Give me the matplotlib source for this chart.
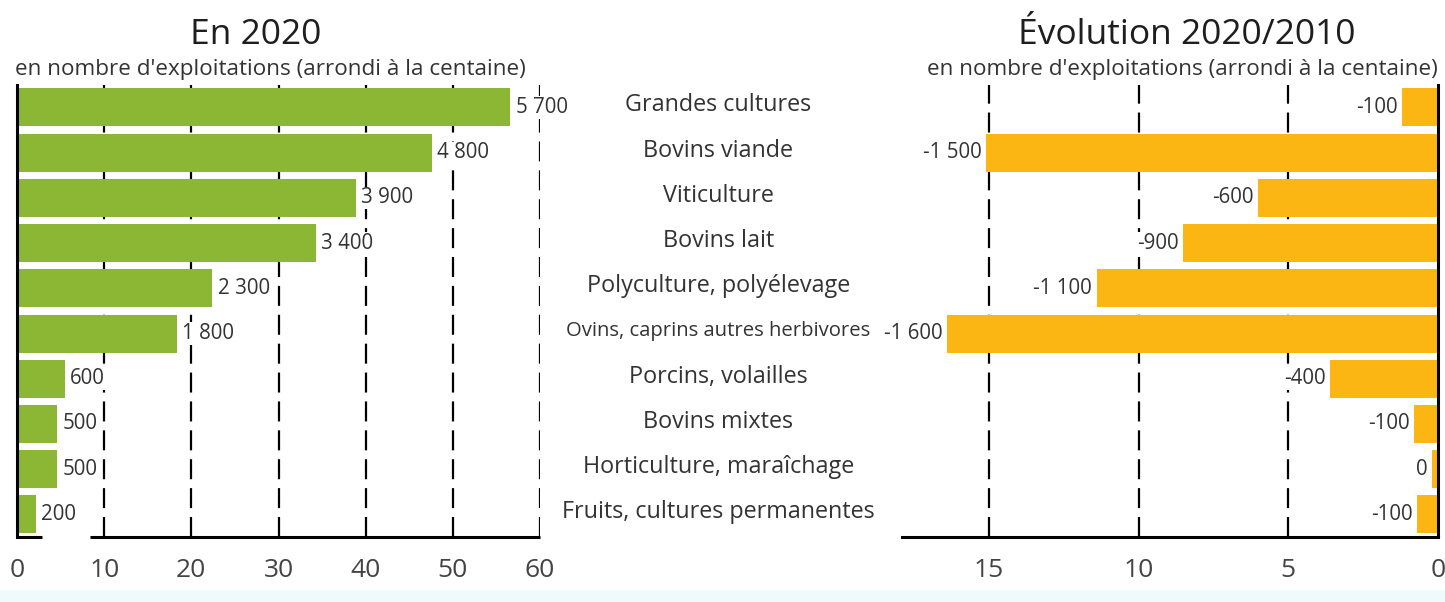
import matplotlib.pyplot as plt
from matplotlib.patches import Rectangle

plt.rcParams['font.family'] = ['Open Sans', 'DejaVu Sans']

categories = ["Grandes cultures", "Bovins viande", "Viticulture", "Bovins lait",
              "Polyculture, polyélevage", "Ovins, caprins autres herbivores",
              "Porcins, volailles", "Bovins mixtes", "Horticulture, maraîchage",
              "Fruits, cultures permanentes"]

# number of farms in 2020 (hundreds)
farms_2020 = [56.6, 47.6, 38.9, 34.3, 22.4, 18.3, 5.5, 4.6, 4.6, 2.2]
farms_2020_labels = ["5 700", "4 800", "3 900", "3 400", "2 300", "1 800",
                     "600", "500", "500", "200"]

# change 2020/2010 (hundreds, as positive length on a reversed axis)
change = [1.2, 15.1, 6.0, 8.5, 11.4, 16.4, 3.6, 0.8, 0.2, 0.7]
change_labels = ["-100", "-1 500", "-600", "-900", "-1 100", "-1 600",
                 "-400", "-100", "0", "-100"]

left_ticks = [0, 10, 20, 30, 40, 50, 60]
right_ticks = [15, 10, 5, 0]

green = "#8cb735"
orange = "#fcb614"
txt = "#333333"
tick_col = "#444444"
lab_box = dict(facecolor="white", edgecolor="none", pad=0.5)

fig = plt.figure(figsize=(14.45, 6.02), dpi=100)
fig.patch.set_facecolor("white")

ax1 = fig.add_axes([0.0118, 0.108, 0.3619, 0.751])
ax2 = fig.add_axes([0.6242, 0.108, 0.3710, 0.751])

ypos = list(range(len(categories)))
dash = (0, (9, 4))

# --- left panel
for g in left_ticks[1:]:
    ax1.axvline(g, color="black", lw=1.6, ls=dash, zorder=0)
ax1.barh(ypos, farms_2020, height=0.84, color=green, zorder=2)
for y, v, lab in zip(ypos, farms_2020, farms_2020_labels):
    ax1.text(v + 0.6, y, lab, va="center", ha="left", fontsize=14.8, color=txt,
             zorder=3, bbox=lab_box)
ax1.set_xlim(0, 60)
ax1.set_ylim(9.5, -0.5)
ax1.set_yticks([])
ax1.set_xticks(left_ticks)
ax1.tick_params(axis="x", length=0, pad=15, labelsize=19, labelcolor=tick_col)
for s in ["top", "right", "bottom"]:
    ax1.spines[s].set_visible(False)
ax1.spines["left"].set_linewidth(2.2)
ax1.spines["left"].set_color("black")
# bottom axis line, broken near the origin as in the original
ax1.hlines([0, 0], [0, 8.4], [2.9, 60], transform=ax1.get_xaxis_transform(),
           color="black", lw=2.2, clip_on=False)

# --- right panel
for g in right_ticks[:-1]:
    ax2.axvline(g, color="black", lw=1.6, ls=dash, zorder=0)
ax2.barh(ypos, change, height=0.84, color=orange, zorder=2)
for y, v, lab in zip(ypos, change, change_labels):
    ax2.text(v + 0.15, y, lab, va="center", ha="right", fontsize=14.8, color=txt,
             zorder=3, bbox=lab_box)
ax2.set_xlim(17.9, 0)
ax2.set_ylim(9.5, -0.5)
ax2.set_yticks([])
ax2.set_xticks(right_ticks)
ax2.tick_params(axis="x", length=0, pad=15, labelsize=19, labelcolor=tick_col)
for s in ["top", "left"]:
    ax2.spines[s].set_visible(False)
ax2.spines["right"].set_linewidth(2.2)
ax2.spines["bottom"].set_linewidth(2.2)

# --- category labels in the middle
for y, c in zip(ypos, categories):
    fs = 14.6 if len(c) > 30 else 16.8
    ax1.annotate(c, xy=(0.497, y), xycoords=("figure fraction", "data"),
                 xytext=(0, 1.5), textcoords="offset points",
                 ha="center", va="center", fontsize=fs, color=txt)

# --- titles
fig.text(0.177, 0.942, "En 2020", ha="center", va="center", fontsize=25.5, color="#1e1e1e")
fig.text(0.821, 0.942, "Évolution 2020/2010", ha="center", va="center", fontsize=25.5, color="#1e1e1e")
sub = "en nombre d'exploitations (arrondi à la centaine)"
fig.text(0.0105, 0.885, sub, ha="left", va="center", fontsize=16.2, color=txt)
fig.text(0.995, 0.885, sub, ha="right", va="center", fontsize=16.2, color=txt)

# pale band at the bottom of the image
fig.patches.append(Rectangle((0, 0), 1, 0.02, transform=fig.transFigure,
                             facecolor="#eefafc", edgecolor="none"))

fig.savefig("out.png", dpi=100)
